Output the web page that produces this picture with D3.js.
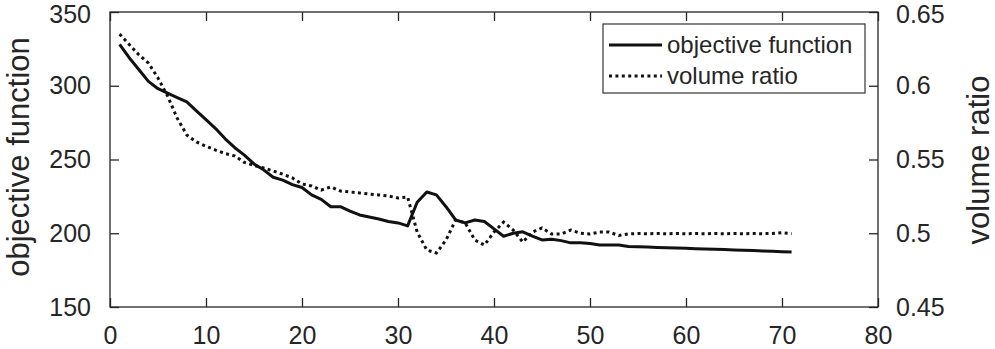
<!DOCTYPE html>
<html><head><meta charset="utf-8">
<script src="https://cdn.jsdelivr.net/npm/d3@7"></script>
<style>
html,body{margin:0;padding:0;background:#fff;}
svg text{font-family:"Liberation Sans",Arial,Helvetica,sans-serif;fill:#262626;}
</style></head>
<body><svg id="c" width="995" height="349"></svg>
<script>
const iterations = d3.range(1, 72);
const objectiveFunction = [328,319,311,303,298,295,292,289,283,277,271,264,258,253,247,243,238,236,233,231,
 226,223,218,218,215,212.4,211,209.7,208,207,205,221,228,226,218,209,207,209,208,203,
 198,200,201,198,195.5,196,195,193.5,193.5,193,192,192,192,191,190.8,190.6,190.4,190.2,190,189.8,
 189.5,189.3,189.1,188.9,188.7,188.5,188.3,188,187.8,187.5,187.3];
const volumeRatio = [0.635,0.628,0.621,0.6154,0.6053,0.593,0.578,0.5666,0.5619,0.559,0.5564,0.554,0.5524,0.548,0.546,0.5442,0.5422,0.540,0.5375,0.5334,
 0.532,0.5293,0.5314,0.5286,0.528,0.5273,0.5266,0.526,0.5253,0.5239,0.5246,0.5008,0.4886,0.4866,0.4954,0.509,0.507,0.4954,0.492,0.5008,
 0.5076,0.5022,0.494,0.5008,0.5036,0.4995,0.4995,0.5022,0.5,0.4995,0.5008,0.5008,0.4985,0.4995,0.4998,0.4997,0.4998,0.4997,0.4998,0.4997,
 0.4998,0.4997,0.4998,0.4997,0.4998,0.4997,0.4998,0.4997,0.4999,0.5004,0.4996];
const xTicks = [0,10,20,30,40,50,60,70,80];
const yLeftTicks = [150,200,250,300,350];
const yRightTicks = [0.45,0.5,0.55,0.6,0.65];
const seriesNames = ["objective function","volume ratio"];

const svg = d3.select("#c");
const L=110, R=878, T=12, B=307;
const x = d3.scaleLinear().domain([0,80]).range([L,R]);
const yL = d3.scaleLinear().domain([150,350]).range([B,T]);
const yR = d3.scaleLinear().domain([0.45,0.65]).range([B,T]);
const tick = 9, fs = 25, ink = "#262626";

function style(g){
  g.selectAll(".domain").remove();
  g.selectAll("line").attr("stroke",ink).attr("stroke-width",1.3);
  g.selectAll("text").attr("font-size",fs).style("fill",ink);
}
// keep the topmost y label inside the picture
function topLabel(g){
  g.selectAll(".tick").filter((d,i,n)=>i===n.length-1).select("text").attr("dy","0.43em");
}
svg.append("g").attr("transform",`translate(0,${B})`)
  .call(d3.axisBottom(x).tickValues(xTicks).tickSizeInner(-tick).tickSizeOuter(0).tickPadding(19).tickFormat(d3.format("d")))
  .call(style);
svg.append("g").attr("transform",`translate(0,${T})`)
  .call(d3.axisTop(x).tickValues(xTicks).tickSizeInner(-tick).tickSizeOuter(0).tickFormat(""))
  .call(style);
svg.append("g").attr("transform",`translate(${L},0)`)
  .call(d3.axisLeft(yL).tickValues(yLeftTicks).tickSizeInner(-tick).tickSizeOuter(0).tickPadding(19).tickFormat(d3.format("d")))
  .call(style).call(topLabel);
svg.append("g").attr("transform",`translate(${R},0)`)
  .call(d3.axisRight(yR).tickValues(yRightTicks).tickSizeInner(-tick).tickSizeOuter(0).tickPadding(18).tickFormat(d=>d3.format("")(+d.toFixed(2))))
  .call(style).call(topLabel);
svg.append("rect").attr("x",L).attr("y",T).attr("width",R-L).attr("height",B-T)
  .attr("fill","none").attr("stroke",ink).attr("stroke-width",1.3);

const lineObj = d3.line().x((d,i)=>x(iterations[i])).y(d=>yL(d));
const lineVol = d3.line().x((d,i)=>x(iterations[i])).y(d=>yR(d));
svg.append("path").datum(volumeRatio).attr("d",lineVol).attr("fill","none")
  .attr("stroke","#111").attr("stroke-width",3).attr("stroke-dasharray","3 3.4");
svg.append("path").datum(objectiveFunction).attr("d",lineObj).attr("fill","none")
  .attr("stroke","#111").attr("stroke-width",3).attr("stroke-linejoin","round");

svg.append("text").attr("transform",`translate(29,157) rotate(-90)`).attr("text-anchor","middle")
  .attr("font-size",31).text(seriesNames[0]);
svg.append("text").attr("transform",`translate(989,160) rotate(-90)`).attr("text-anchor","middle")
  .attr("font-size",31).text(seriesNames[1]);

const lg = svg.append("g");
lg.append("rect").attr("x",603).attr("y",24).attr("width",262).attr("height",69)
  .attr("fill","#fff").attr("stroke","#444").attr("stroke-width",1.3);
[[45,null],[76,"3 3.4"]].forEach((r,i)=>{
  lg.append("line").attr("x1",609).attr("x2",662).attr("y1",r[0]).attr("y2",r[0])
    .attr("stroke","#111").attr("stroke-width",3).attr("stroke-dasharray",r[1]);
  lg.append("text").attr("x",667).attr("y",r[0]).attr("dy","0.35em").attr("font-size",24).text(seriesNames[i]);
});
</script></body></html>
